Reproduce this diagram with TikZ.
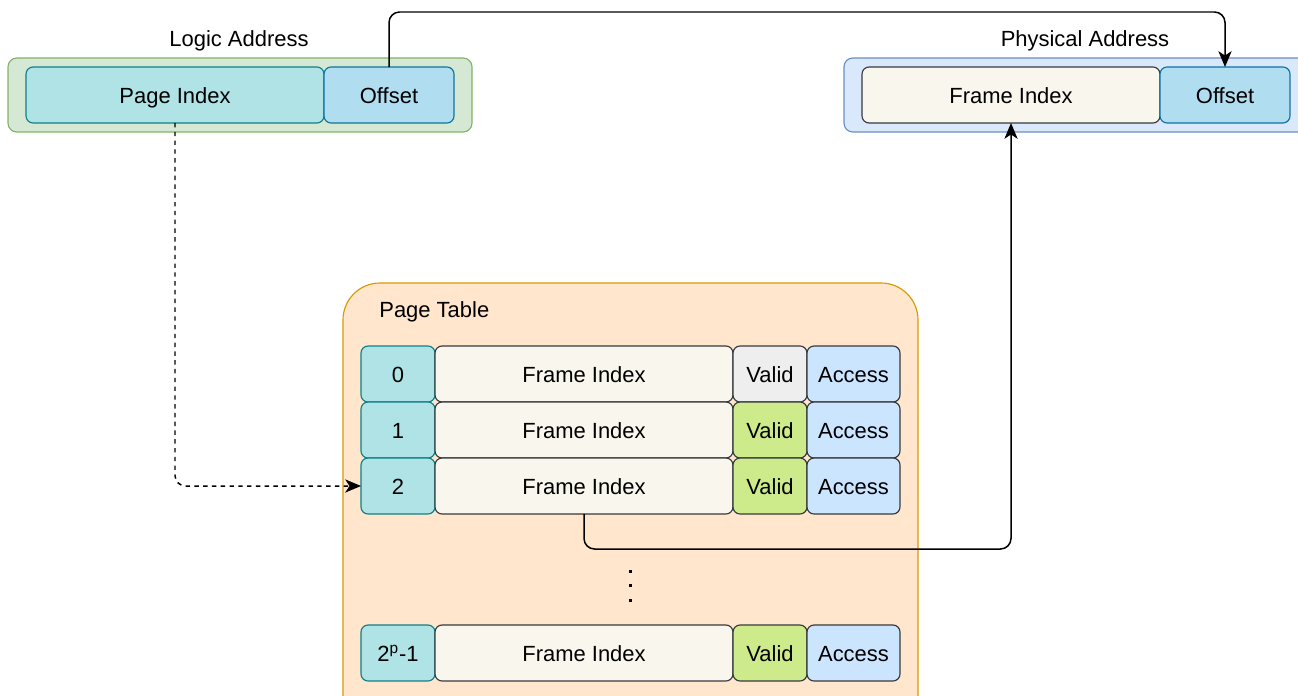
\documentclass[tikz,border=0pt]{standalone}
\usepackage{fontspec}
\setmainfont{Liberation Sans}
\usetikzlibrary{arrows.meta}

\definecolor{greenfill}{HTML}{D5E8D4}
\definecolor{greenline}{HTML}{82B366}
\definecolor{bluefill}{HTML}{DAE8FC}
\definecolor{blueline}{HTML}{6C8EBF}
\definecolor{orangefill}{HTML}{FFE6CC}
\definecolor{orangeline}{HTML}{D79B00}
\definecolor{tealfill}{HTML}{B0E3E6}
\definecolor{tealline}{HTML}{0E8088}
\definecolor{offfill}{HTML}{B1DDF0}
\definecolor{offline}{HTML}{10739E}
\definecolor{framefill}{HTML}{F9F7ED}
\definecolor{darkline}{HTML}{36393D}
\definecolor{greyfill}{HTML}{EEEEEE}
\definecolor{validfill}{HTML}{CDEB8B}
\definecolor{accfill}{HTML}{CCE5FF}

\begin{document}
\begin{tikzpicture}[x=0.02cm,y=-0.02cm,
  every node/.style={font=\fontsize{12.5}{15}\selectfont,text height=9.5pt,text depth=0pt},
  cell/.style={draw,rounded corners=4pt,minimum height=1.12cm,inner sep=0pt,outer sep=0pt,line width=0.65pt},
  idx/.style={cell,fill=tealfill,draw=tealline,minimum width=1.48cm},
  frame/.style={cell,fill=framefill,draw=darkline,minimum width=5.96cm},
  valid/.style={cell,fill=validfill,draw=darkline,minimum width=1.48cm},
  access/.style={cell,fill=accfill,draw=darkline,minimum width=1.86cm},
  offset/.style={cell,fill=offfill,draw=offline,minimum width=2.6cm},
  link/.style={line width=0.85pt,rounded corners=6pt,-{Stealth[length=9pt,width=7.5pt,inset=2.5pt]}}]
\useasboundingbox (0,0) rectangle (1298,696);

% containers
\filldraw[fill=greenfill,draw=greenline,line width=0.65pt,rounded corners=5pt] (8,58) rectangle (472,132);
\filldraw[fill=bluefill,draw=blueline,line width=0.65pt,rounded corners=5pt] (844,58) rectangle (1320,132);
\filldraw[fill=orangefill,draw=orangeline,line width=0.65pt,rounded corners=21pt] (343,283) rectangle (918,740);

\node (lname) at (239,38) {Logic Address};
\node (pname) at (1085,38) {Physical Address};
\node[anchor=west,inner xsep=0pt] (tname) at (379,309) {Page Table};

% addresses
\node[idx,minimum width=5.96cm] (lpage) at (175,95) {Page Index};
\node[offset] (loff) at (389,95) {Offset};
\node[frame] (pframe) at (1011,95) {Frame Index};
\node[offset] (poff) at (1225,95) {Offset};

% page table
\node[idx] (i0) at (398,374) {0};
\node[frame] (f0) at (584,374) {Frame Index};
\node[valid,fill=greyfill] (v0) at (770,374) {Valid};
\node[access] (a0) at (853.5,374) {Access};

\node[idx] (i1) at (398,430) {1};
\node[frame] (f1) at (584,430) {Frame Index};
\node[valid] (v1) at (770,430) {Valid};
\node[access] (a1) at (853.5,430) {Access};

\node[idx] (i2) at (398,486) {2};
\node[frame] (f2) at (584,486) {Frame Index};
\node[valid] (v2) at (770,486) {Valid};
\node[access] (a2) at (853.5,486) {Access};

\foreach \y in {571,585.5,600}
  \fill (628.5,\y-1.5) rectangle (631.5,\y+1.5);

\node[idx] (in) at (398,653) {2\textsuperscript{p}-1};
\node[frame] (fn) at (584,653) {Frame Index};
\node[valid] (vn) at (770,653) {Valid};
\node[access] (an) at (853.5,653) {Access};

% links
\coordinate (hi) at (0,12);
\coordinate (lo) at (0,549);
\draw[link] (loff.north) -- (loff.north |- hi) -| (poff.north);
\draw[link,dash pattern=on 2.5pt off 2.5pt] (lpage.south) |- (i2.west);
\draw[link] (f2.south) -- (f2.south |- lo) -| (pframe.south);
\end{tikzpicture}
\end{document}
